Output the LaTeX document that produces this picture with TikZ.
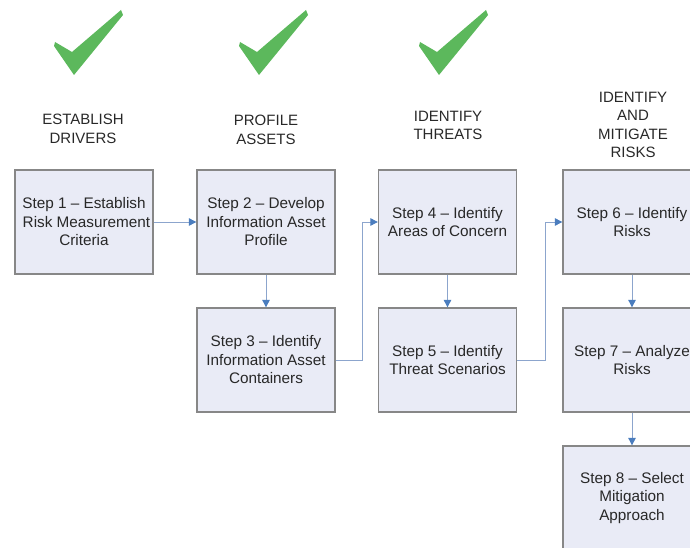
\documentclass[tikz,border=0pt]{standalone}
\usepackage{fontspec}
\setmainfont{Liberation Sans}
\usetikzlibrary{arrows.meta}
\definecolor{boxfill}{RGB}{233,235,246}
\definecolor{boxline}{RGB}{135,135,135}
\definecolor{arrline}{RGB}{140,165,205}
\definecolor{arrhead}{RGB}{75,125,190}
\definecolor{checkgreen}{RGB}{92,184,92}
\definecolor{txt}{RGB}{40,40,40}
\begin{document}
\begin{tikzpicture}[x=1pt,y=-1pt,
  stepbox/.style={draw=boxline, line width=1.3pt, fill=boxfill, minimum width=138pt, minimum height=104pt, inner sep=0pt, align=center, text=txt, font=\fontsize{15.3}{18.5}\selectfont},
  boxtext/.style={align=center, text=txt, inner sep=0pt, font=\fontsize{15.3}{18.5}\selectfont},
  header/.style={align=center, text=txt, font=\fontsize{15}{18.5}\selectfont, inner sep=0pt},
  conn/.style={draw=arrline, line width=0.9pt, -{Triangle[length=7.5pt,width=7.5pt,color=arrhead,fill=arrhead]}}]
\useasboundingbox (0,0) rectangle (690,548);
\clip (0,0) rectangle (690,548);
% check marks
\foreach \dx/\nm in {0/c1,185/c2,365/c3}{
  \begin{scope}[xshift=\dx pt]
    \fill[checkgreen] (55,42) -- (72,52) -- (121,10) -- (123,15) -- (74,75) -- (54,46) -- cycle;
  \end{scope}
}
% headers
\node[header] (h1) at (83,129) {ESTABLISH\\DRIVERS};
\node[header] (h2) at (266,130) {PROFILE\\ASSETS};
\node[header] (h3) at (448,125.5) {IDENTIFY\\THREATS};
\node[header] (h4) at (633,125) {IDENTIFY\\AND\\MITIGATE\\RISKS};
% boxes
\node[stepbox] (s1) at (84,222) {};
\begin{scope}
  \clip (s1.south west) rectangle ([xshift=-1.5pt]s1.north east);
  \node[boxtext] (t1) at (s1.center) {Step 1 – Establish\\\hspace*{5pt}Risk Measurement\\Criteria};
\end{scope}
\node[stepbox] (s2) at (266,222) {Step 2 – Develop\\Information Asset\\Profile};
\node[stepbox] (s3) at (266,360) {Step 3 – Identify\\Information Asset\\Containers};
\node[stepbox] (s4) at (447.5,222) {Step 4 – Identify\\Areas of Concern};
\node[stepbox] (s5) at (447.5,360) {Step 5 – Identify\\Threat Scenarios};
\node[stepbox] (s6) at (632,222) {Step 6 – Identify\\Risks};
\node[stepbox] (s7) at (632,360) {Step 7 – Analyze\\Risks};
\node[stepbox] (s8) at (632,498) {Step 8 – Select\\Mitigation\\Approach};
% connectors
\draw[conn] (s1.east) -- (s2.west);
\draw[conn] (s2.south) -- (s3.north);
\draw[conn] (s3.east) -- ([xshift=27pt]s3.east) |- (s4.west);
\draw[conn] (s4.south) -- (s5.north);
\draw[conn] (s5.east) -- ([xshift=28pt]s5.east) |- (s6.west);
\draw[conn] (s6.south) -- (s7.north);
\draw[conn] (s7.south) -- (s8.north);
\end{tikzpicture}
\end{document}
